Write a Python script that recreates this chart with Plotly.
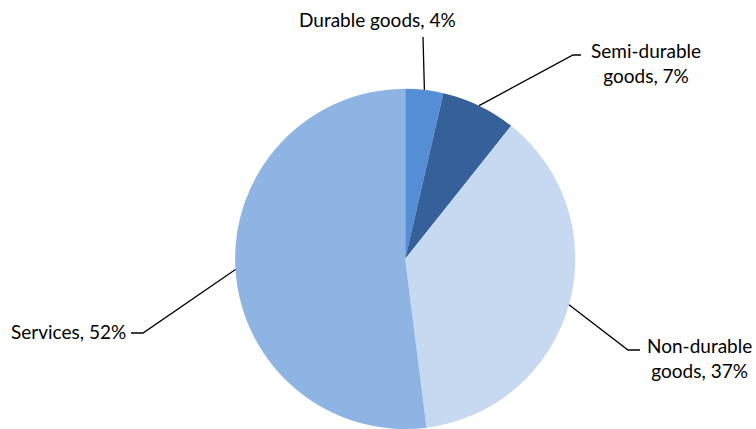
import math
import plotly.graph_objects as go

categories = ["Durable goods", "Semi-durable goods", "Non-durable goods", "Services"]
shares = [3.6, 7.1, 37.3, 52.0]
label_text = ["Durable goods, 4%", "Semi-durable<br>goods, 7%", "Non-durable<br>goods, 37%", "Services, 52%"]
colors = ["#558ED5", "#35609A", "#C6D9F1", "#8EB4E3"]

W, H = 756, 429
dom_x = [0.311, 0.761]
dom_y = [0.0, 0.793]

fig = go.Figure(go.Pie(
    labels=categories, values=shares, sort=False, direction="clockwise", rotation=0,
    marker=dict(colors=colors, line=dict(width=0)),
    textinfo="none", hoverinfo="label+percent", showlegend=False,
    domain=dict(x=dom_x, y=dom_y),
))

# pie geometry in pixels (derived from domain)
dw = (dom_x[1] - dom_x[0]) * W
dh = (dom_y[1] - dom_y[0]) * H
r = min(dw, dh) / 2
cx = (dom_x[0] + dom_x[1]) / 2 * W
cy = H - (dom_y[0] + dom_y[1]) / 2 * H

# label layout: elbow point, end point, text position, anchor
layout_pts = [
    dict(elbow=(423, 37), end=(423, 37), text=(377, 20), xanchor="center", align="center"),
    dict(elbow=(573, 55), end=(581, 55), text=(646, 63), xanchor="center", align="center"),
    dict(elbow=(628, 350), end=(640, 350), text=(699, 358), xanchor="center", align="center"),
    dict(elbow=(143, 333), end=(131, 333), text=(128, 331), xanchor="right", align="right"),
]

total = sum(shares)
cum = 0
shapes = []
annotations = []
for v, txt, lp in zip(shares, label_text, layout_pts):
    mid = (cum + v / 2) / total * 2 * math.pi
    cum += v
    ax = cx + r * math.sin(mid)
    ay = cy - r * math.cos(mid)
    pts = [(ax, ay), lp["elbow"], lp["end"]]
    path = "M " + " L ".join(f"{x / W:.5f},{1 - y / H:.5f}" for x, y in pts)
    shapes.append(dict(type="path", xref="paper", yref="paper", path=path,
                       line=dict(color="black", width=1.3)))
    tx, ty = lp["text"]
    annotations.append(dict(x=tx / W, y=1 - ty / H, xref="paper", yref="paper",
                            text=txt, showarrow=False, xanchor=lp["xanchor"], yanchor="middle",
                            align=lp["align"], font=dict(family="Lato", size=19, color="black")))

fig.update_layout(
    width=W, height=H, margin=dict(l=0, r=0, t=0, b=0),
    paper_bgcolor="white", plot_bgcolor="white",
    shapes=shapes, annotations=annotations,
)
fig.write_html("out.html", config={"displayModeBar": False},
               post_script="document.body.style.margin='0';")
